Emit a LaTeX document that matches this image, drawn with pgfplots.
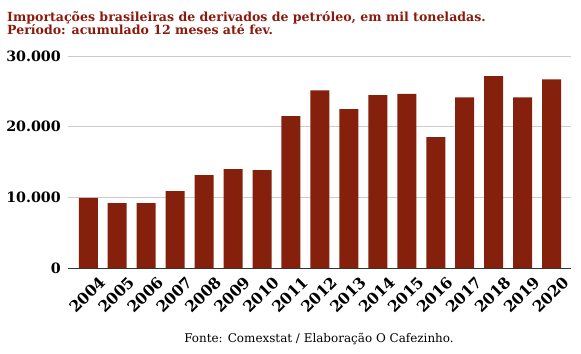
\documentclass[border=0pt]{standalone}
\usepackage{fontspec}
\setmainfont{DejaVu Serif}
\usepackage{pgfplots}
\pgfplotsset{compat=1.18}
\definecolor{barred}{HTML}{85200C}
\definecolor{titred}{HTML}{8B1A0E}
\begin{document}
\begin{tikzpicture}[x=1bp,y=1bp]
\useasboundingbox (0,0) rectangle (581,-353);
\begin{axis}[
  at={(68bp,-268bp)}, anchor=south west,
  scale only axis, width=503bp, height=212bp,
  xmin=-0.7, xmax=16.67, ymin=0, ymax=30000,
  scaled y ticks=false,
  ybar, bar width=19bp,
  axis lines*=left,
  y axis line style={draw=none},
  x axis line style={draw=black!80, line width=0.8pt, -},
  tick style={draw=none},
  ymajorgrids, grid style={draw=gray!40, line width=0.6pt},
  ytick={0,10000,20000,30000},
  yticklabels={0,10.000,20.000,30.000},
  yticklabel style={font=\fontsize{14.3}{16}\selectfont\bfseries, inner sep=0pt, xshift=-7bp},
  xtick=data,
  xticklabels={2004,2005,2006,2007,2008,2009,2010,2011,2012,2013,2014,2015,2016,2017,2018,2019,2020},
  xticklabel style={font=\fontsize{15.5}{16}\selectfont\bfseries, rotate=45, anchor=north east, inner sep=0pt, xshift=5bp, yshift=-9bp},
  clip=false,
]
\addplot[fill=barred, draw=none] coordinates {
(0,9930) (1,9180) (2,9180) (3,10880) (4,13140) (5,13990) (6,13850) (7,21480)
(8,25150) (9,22470) (10,24450) (11,24630) (12,18510) (13,24160) (14,27170) (15,24160) (16,26700)
};
\end{axis}
\node[anchor=base west, inner sep=0, text=titred, font=\fontsize{12.6}{14}\selectfont\bfseries] at (7,-21) {Importações brasileiras de derivados de petróleo, em mil toneladas.};
\node[anchor=base west, inner sep=0, text=titred, font=\fontsize{12.6}{14}\selectfont\bfseries] at (7,-34.5) {Período: acumulado 12 meses até fev.};
\node[anchor=base, inner sep=0, font=\fontsize{12}{13}\selectfont] at (319,-342) {Fonte: Comexstat / Elaboração O Cafezinho.};
\end{tikzpicture}
\end{document}
